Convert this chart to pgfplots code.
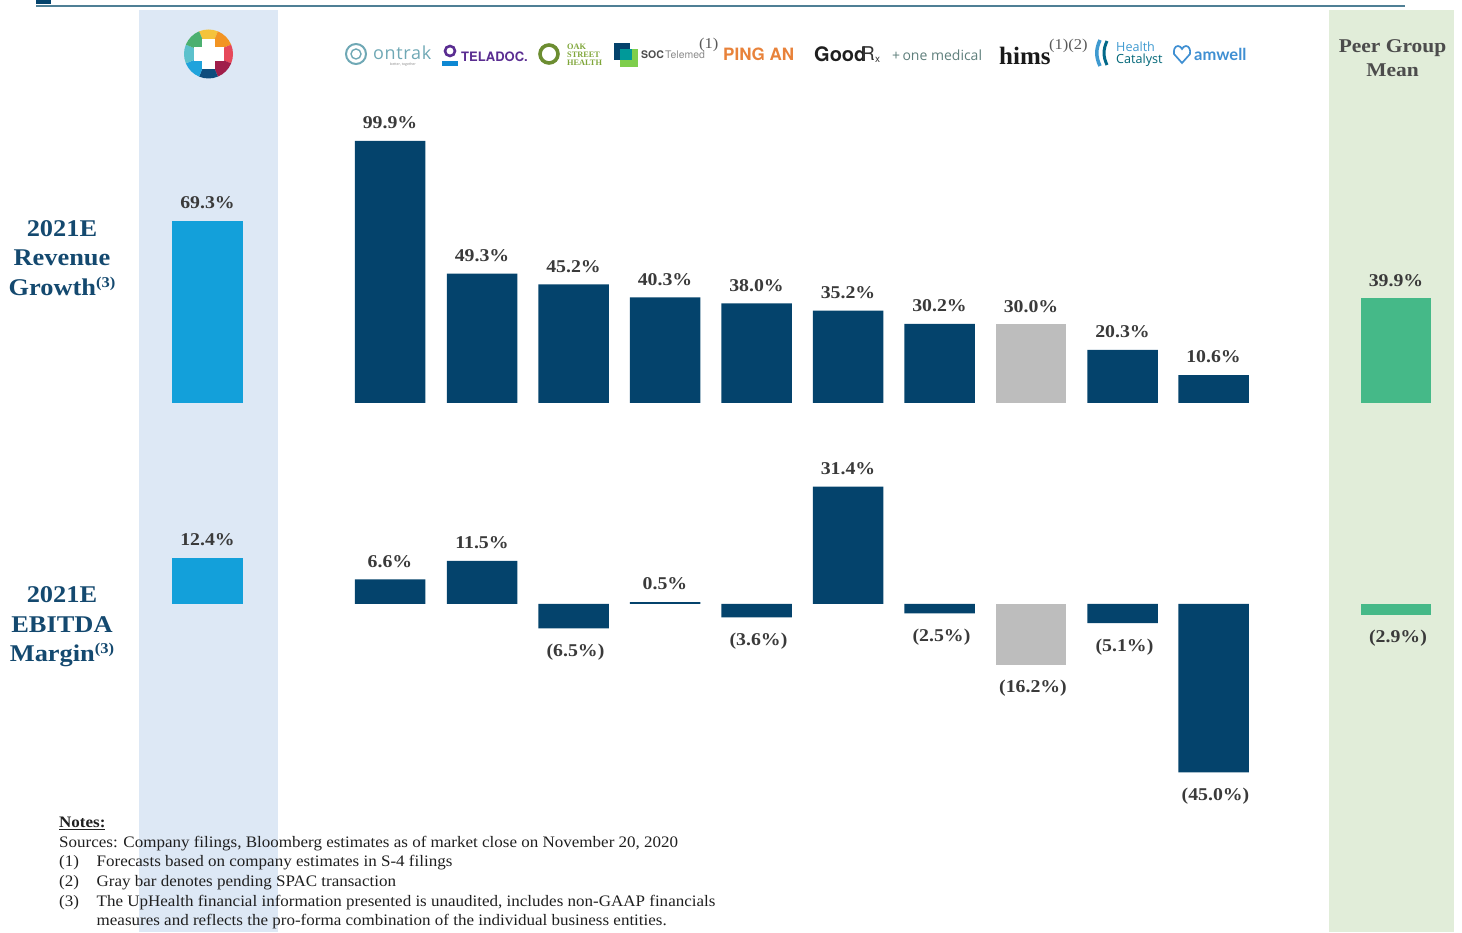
\documentclass[border=0pt]{standalone}
\usepackage{fontspec}
\usepackage{pgfplots}
\pgfplotsset{compat=1.18}
\setmainfont{Liberation Serif}[FakeStretch=1.1]
\newfontfamily\logosans{Open Sans}
\newfontfamily\logolato{Lato}
\newfontfamily\logoheros{TeX Gyre Heros}
\newfontfamily\logoserif{Liberation Serif}
\newfontfamily\notesf{Liberation Serif}[FakeStretch=1.063]
\definecolor{navy}{HTML}{04436C}
\definecolor{upblue}{HTML}{13A0DA}
\definecolor{peer}{HTML}{45B988}
\definecolor{pend}{HTML}{BDBDBD}
\definecolor{bandblue}{HTML}{DDE8F5}
\definecolor{bandgreen}{HTML}{E1EDD9}
\definecolor{labelc}{HTML}{3A3A3A}
\definecolor{titlec}{HTML}{14496F}
\definecolor{ontrakc}{HTML}{6FA8B5}
\definecolor{teladocc}{HTML}{5A2D91}
\definecolor{oakc}{HTML}{7FA63A}
\definecolor{pingc}{HTML}{E8823A}
\definecolor{onemedc}{HTML}{5F7F7C}
\definecolor{hcblue}{HTML}{3F9AD0}
\definecolor{amc}{HTML}{3F8FD2}
\newcommand{\supn}{\raisebox{8pt}{\fontsize{15}{15}\selectfont (3)}}
\pgfplotsset{
  panel/.style={
    hide axis, clip=false, scale only axis, width=1462pt,
    xmin=0, xmax=1462, ybar, bar width=70.5pt, bar shift=0pt,
    nodes near coords, point meta=explicit symbolic,
    every node near coord/.append style={font=\fontsize{18}{20}\selectfont\bfseries, text=labelc, inner sep=0pt, outer sep=0pt},
  },
  up/.style={draw=none, nodes near coords align={anchor=south, yshift=12pt}},
  dn/.style={draw=none, nodes near coords align={anchor=north, yshift=-15.5pt, xshift=2pt}},
}
\begin{document}
\begin{tikzpicture}[x=1pt,y=1pt]
\path[use as bounding box] (0,0) rectangle (1462,932);
\fill[bandblue] (139,0) rectangle (278,922);
\fill[bandgreen] (1329,0) rectangle (1454,922);
\fill[navy] (36,928) rectangle (51,932);
\draw[color=black!30!teal!20!navy!70, line width=1.6pt] (36,926) -- (1405,926);

% Revenue growth panel
\begin{axis}[panel, at={(0pt,512pt)}, anchor=south west, height=320pt, ymin=-6.48, ymax=115.52]
\addplot[fill=upblue, up] coordinates {(207.5,69.3) [69.3\%]};
\addplot[fill=navy, up] coordinates {
 (390,99.9) [99.9\%] (482,49.3) [49.3\%] (573.5,45.2) [45.2\%] (665,40.3) [40.3\%]
 (756.5,38.0) [38.0\%] (848,35.2) [35.2\%] (939.5,30.2) [30.2\%]
 (1122.5,20.3) [20.3\%] (1213.5,10.6) [10.6\%]};
\addplot[fill=pend, up] coordinates {(1031,30.0) [30.0\%]};
\addplot[fill=peer, up] coordinates {(1396,39.9) [39.9\%]};
\end{axis}

% EBITDA margin panel
\begin{axis}[panel, at={(0pt,132pt)}, anchor=south west, height=360pt, ymin=-52.41, ymax=43.85]
\addplot[fill=upblue, up] coordinates {(207.5,12.4) [12.4\%]};
\addplot[fill=navy, up] coordinates {
 (390,6.6) [6.6\%] (482,11.5) [11.5\%] (665,0.5) [0.5\%] (848,31.4) [31.4\%]};
\addplot[fill=navy, dn] coordinates {
 (573.5,-6.5) [(6.5\%)] (756.5,-3.6) [(3.6\%)] (939.5,-2.5) [(2.5\%)]
 (1122.5,-5.1) [(5.1\%)] (1213.5,-45.0) [(45.0\%)]};
\addplot[fill=pend, dn] coordinates {(1031,-16.2) [(16.2\%)]};
\addplot[fill=peer, dn] coordinates {(1396,-2.9) [(2.9\%)]};
\end{axis}

% row titles
\node[align=center, font=\fontsize{24}{29.5}\selectfont\bfseries, text=titlec] at (62,674) {2021E\\Revenue\\Growth\supn};
\node[align=center, font=\fontsize{24}{29.5}\selectfont\bfseries, text=titlec] at (62,305) {2021E\\EBITDA\\Margin\supn};
\node[align=center, font=\fontsize{19.5}{24}\selectfont\bfseries, text=black!70] at (1392.5,874) {Peer Group\\Mean};

% UpHealth logo
\begin{scope}[shift={(208.5,878)}]
\foreach \a/\c in {90/F5C33B,45/F29423,0/E6485A,-45/A01E4A,-90/0F4C7C,-135/1FA3DC,180/5CC1CC,135/4CB070}{
  \definecolor{seg}{HTML}{\c}
  \fill[seg] (0,0) -- (\a-22.5:24.5) arc[start angle=\a-22.5, end angle=\a+22.5, radius=24.5] -- cycle;
}
\fill[white] (-6.5,-15) rectangle (6.5,15);
\fill[white] (-15,-7) rectangle (15,7);
\end{scope}

% peer logos (approximate word marks)
\draw[color=ontrakc, line width=2pt] (356,878) circle (10);
\draw[color=ontrakc, line width=1.4pt] (356,878) circle (5);
\node[anchor=west, inner sep=0pt, font=\logosans\fontsize{18}{20}\selectfont, text=ontrakc] at (373,879) {o\kern.6pt n\kern.6pt t\kern.6pt r\kern.6pt a\kern.6pt k};
\node[inner sep=0pt, font=\logosans\fontsize{3.5}{4}\selectfont, text=gray] at (403,867) {better, together};
\draw[color=teladocc, line width=2.6pt] (450,881) circle (5);
\fill[color=cyan!70!blue] (442,866) rectangle (458,870.5);
\node[anchor=west, inner sep=0pt, font=\logoheros\bfseries\fontsize{13}{15}\selectfont, text=teladocc] at (461,875.5) {TELADOC.};
\draw[color=oakc!85!black, line width=3.6pt] (549,878) circle (9);
\node[anchor=west, align=left, inner sep=0pt, font=\logoserif\bfseries\fontsize{8.3}{7.8}\selectfont, text=oakc] at (567,877) {OAK\\STREET\\HEALTH};
\fill[navy] (614,872) rectangle (630,889);
\fill[green!45!olive!70] (620,865) rectangle (638,883);
\fill[teal!80!cyan] (620,872) rectangle (632,883);
\node[anchor=west, inner sep=0pt, font=\logoheros\bfseries\fontsize{10.5}{11}\selectfont, text=black!70] at (641,877) {SOC};
\node[anchor=west, inner sep=0pt, font=\logoheros\fontsize{10.5}{11}\selectfont, text=black!45] at (665,877) {Telemed};
\node[anchor=west, inner sep=0pt, font=\fontsize{15}{15}\selectfont, text=black!65] at (699,887) {(1)};
\node[anchor=west, inner sep=0pt, font=\logoheros\bfseries\fontsize{17}{18}\selectfont, text=pingc] at (723,877.5) {PING AN};
\node[anchor=west, inner sep=0pt, font=\logoheros\bfseries\fontsize{20}{20}\selectfont, text=black!88] at (814,878) {Good};
\node[anchor=west, inner sep=0pt, font=\logoheros\fontsize{19}{20}\selectfont, text=black!80] at (861,878) {R};
\node[anchor=west, inner sep=0pt, font=\logoheros\fontsize{10}{11}\selectfont, text=black!80] at (875,872) {x};
\node[anchor=west, inner sep=0pt, font=\logosans\fontsize{14}{15}\selectfont, text=onemedc] at (892,877) {+\,one medical};
\node[anchor=west, inner sep=0pt, font=\logoserif\bfseries\fontsize{25}{25}\selectfont, text=black!90] at (999,876) {hims};
\node[anchor=west, inner sep=0pt, font=\fontsize{15}{15}\selectfont, text=black!65] at (1049,886) {(1)(2)};
\draw[color=hcblue, line width=3.5pt] (1100,892) to[bend right=25] (1100,866);
\draw[color=navy!80!cyan, line width=3pt] (1107,891) to[bend right=25] (1107,867);
\node[anchor=west, align=left, inner sep=0pt, font=\logosans\fontsize{12.6}{12.5}\selectfont, text=hcblue] at (1116,878) {Health\\[-1pt]\textcolor{teal!60!navy}{Catalyst}};
\draw[color=amc, line width=1.7pt] (1182,869) -- (1174,878) to[out=100,in=180] (1178,886) to[out=0,in=120] (1182,883) to[out=60,in=180] (1186,886) to[out=0,in=80] (1190,878) -- cycle;
\node[anchor=west, inner sep=0pt, font=\logolato\bfseries\fontsize{16.5}{18}\selectfont, text=amc] at (1194,878) {amwell};

% notes
\begin{scope}[font=\notesf\fontsize{16}{16}\selectfont, text=black!88]
\node[anchor=base west, inner sep=0pt, font=\notesf\bfseries\fontsize{16}{16}\selectfont] at (59,104) {\underline{Notes:}};
\node[anchor=base west, inner sep=0pt] at (59,84.5) {Sources: Company filings, Bloomberg estimates as of market close on November 20, 2020};
\node[anchor=base west, inner sep=0pt] at (59,65) {(1)};
\node[anchor=base west, inner sep=0pt] at (96.5,65) {Forecasts based on company estimates in S-4 filings};
\node[anchor=base west, inner sep=0pt] at (59,45.5) {(2)};
\node[anchor=base west, inner sep=0pt] at (96.5,45.5) {Gray bar denotes pending SPAC transaction};
\node[anchor=base west, inner sep=0pt] at (59,26) {(3)};
\node[anchor=base west, inner sep=0pt] at (96.5,26) {The UpHealth financial information presented is unaudited, includes non-GAAP financials};
\node[anchor=base west, inner sep=0pt] at (96.5,6.5) {measures and reflects the pro-forma combination of the individual business entities.};
\end{scope}
\end{tikzpicture}
\end{document}
